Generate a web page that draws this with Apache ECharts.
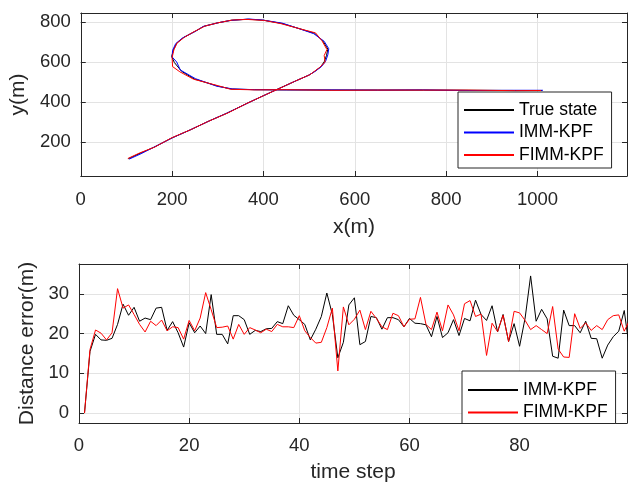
<!DOCTYPE html>
<html>
<head>
<meta charset="utf-8">
<script src="https://cdn.jsdelivr.net/npm/echarts@6/dist/echarts.min.js"></script>
<style>
  html, body { margin: 0; padding: 0; background: #fff; }
  #top { position: absolute; left: 0; top: 0; width: 630px; height: 244px; }
  #bot { position: absolute; left: 0; top: 244px; width: 630px; height: 244px; }
</style>
</head>
<body>
<div id="top"></div>
<div id="bot"></div>
<script>
// ---- Trajectory (top) ----
const trueX = [104,130,160,200,240,280,320,366,400,432,470,500,511,525,533,538,541,530,512,480,440,400,366,330,300,270,250,225,210,203,199,205,221,249,300,330,380,450,550,650,750,850,950,1010];
const trueY = [118,145,175,222,262,305,345,396,432,466,505,535,551,575,601,632,664,705,743,765,792,808,813,808,795,778,752,722,693,660,627,597,553,515,480,465,462,461,460,460,460,459,458,458];
const immX = [106,132,158,202,238,282,318,368,398,430,472,498,513,527,536,541,543,533,510,478,442,398,368,328,302,268,252,223,208,201,200,210,218,251,298,332,380,452,548,652,748,852,948,1012];
const immY = [116,143,173,224,260,307,343,398,430,463,507,533,553,577,603,636,666,703,741,766,793,809,814,807,796,777,754,720,692,658,625,600,560,517,479,466,462,461,461,460,461,458,459,459];
const fimmX = [103,128,162,198,242,278,322,364,402,434,468,502,509,523,535,533,539,528,514,482,438,402,364,332,298,272,248,227,211,204,200,201,217,247,302,328,382,448,552,648,752,848,952,1008];
const fimmY = [119,146,176,221,264,303,346,394,434,467,503,537,549,573,599,632,662,706,745,764,791,807,812,809,794,779,751,723,695,661,622,577,551,514,481,464,461,462,459,460,460,460,457,458];
const xTicksTop = [0,200,400,600,800,1000];
const yTicksTop = [200,400,600,800];

// ---- Distance error (bottom) ----
const steps = [1,2,3,4,5,6,7,8,9,10,11,12,13,14,15,16,17,18,19,20,21,22,23,24,25,26,27,28,29,30,31,32,33,34,35,36,37,38,39,40,41,42,43,44,45,46,47,48,49,50,51,52,53,54,55,56,57,58,59,60,61,62,63,64,65,66,67,68,69,70,71,72,73,74,75,76,77,78,79,80,81,82,83,84,85,86,87,88,89,90,91,92,93,94,95,96,97,98,99,100];
const errIMM = [0,15.5,19.8,18.4,18.3,18.8,22.3,27.4,24.6,26.6,23.1,23.9,23.5,26.4,26.6,20.8,23.0,20.2,16.6,22.7,20.2,21.9,20.0,29.8,19.8,19.8,17.4,24.5,24.5,23.5,19.8,20.8,20.5,21.2,21.3,23.0,22.5,27.0,24.6,23.5,22.3,18.4,21.1,24.3,30.2,24.8,13.9,17.8,27.2,29.0,17.2,18.0,24.3,24.0,21.1,24.0,24.0,23.5,21.7,23.8,22.6,22.5,22.2,19.2,24.3,19.0,20.2,23.5,19.5,23.8,23.2,28.4,24.8,23.3,27.0,20.4,24.8,18.0,22.5,16.8,23.9,34.5,23.1,26.1,23.7,14.3,13.8,25.9,22.0,22.0,20.2,23.1,18.8,18.7,13.8,17.1,19.2,20.6,25.8,15.5];
const errFIMM = [0,16.0,20.9,20.1,18.4,20.2,31.3,26.4,27.2,24.8,22.3,20.4,23.1,22.0,23.4,20.7,21.7,21.5,18.6,23.3,20.7,23.9,30.3,26.0,21.5,21.6,21.9,18.6,22.3,19.8,21.5,20.9,20.2,21.1,20.5,22.3,21.7,21.7,21.5,24.5,20.7,19.0,17.6,17.8,21.5,26.4,10.6,26.7,22.2,23.6,25.9,21.0,25.6,23.8,21.7,21.0,25.1,24.5,21.7,23.6,23.7,29.1,22.3,21.0,25.4,20.7,27.2,24.7,20.7,27.5,28.3,24.3,24.9,14.5,22.6,20.5,24.6,18.0,25.6,25.2,23.3,21.0,22.0,21.0,20.0,26.8,16.1,14.1,14.0,25.0,21.3,22.7,20.8,22.0,21.0,23.5,24.5,24.7,20.6,23.5];
const xTicksBot = [0,20,40,60,80];
const yTicksBot = [0,10,20,30];

const FONT = '"Liberation Sans", Arial, Helvetica, sans-serif';
const AX = '#262626';
const GRID = '#e3e3e3';

function zip(a, b) { return a.map((v, i) => [v, b[i]]); }

function mainAxis(pos, min, max, interval, split, name, nameGap, labelMargin, ticks) {
  const ax = {
    type: 'value', position: pos, min: min, max: max,
    name: name, nameLocation: 'middle', nameGap: nameGap,
    nameTextStyle: { fontFamily: FONT, fontSize: 21, color: AX },
    axisLine: { show: true, onZero: false, lineStyle: { color: AX, width: 1 } },
    axisTick: { show: true, inside: true, length: 5, lineStyle: { color: AX } },
    axisLabel: {
      show: true, fontFamily: FONT, fontSize: 18.5, color: AX, margin: labelMargin,
      showMinLabel: ticks.indexOf(min) >= 0, showMaxLabel: ticks.indexOf(max) >= 0,
      formatter: function (v) { return ticks.indexOf(v) >= 0 ? String(v) : ''; }
    },
    splitLine: { show: true, lineStyle: { color: GRID, width: 1 } }
  };
  if (interval) ax.interval = interval; else ax.splitNumber = split;
  return ax;
}
function boxAxis(pos, min, max, interval, split) {
  const ax = {
    type: 'value', position: pos, min: min, max: max,
    axisLine: { show: true, onZero: false, lineStyle: { color: AX, width: 1 } },
    axisTick: { show: true, inside: true, length: 5, lineStyle: { color: AX } },
    axisLabel: { show: false }, splitLine: { show: false }
  };
  if (interval) ax.interval = interval; else ax.splitNumber = split;
  return ax;
}
function legend(left, top, pad, names) {
  return {
    orient: 'vertical', left: left, top: top,
    backgroundColor: '#fff', borderColor: AX, borderWidth: 1, borderRadius: 0,
    padding: pad, itemWidth: 50, itemHeight: 14, itemGap: 4.5,
    itemStyle: { color: 'transparent', borderColor: 'transparent', borderWidth: 0, opacity: 0 },
    textStyle: { fontFamily: FONT, fontSize: 17.5, color: '#000' },
    data: names
  };
}
function lineSeries(name, data, color) {
  return {
    name: name, type: 'line', data: data, symbol: 'none', showSymbol: false,
    lineStyle: { color: color, width: 1 }, itemStyle: { color: color },
    clip: true, animation: false, xAxisIndex: 0, yAxisIndex: 0
  };
}

// top chart
const c1 = echarts.init(document.getElementById('top'), null, { renderer: 'canvas' });
c1.setOption({
  animation: false,
  grid: { left: 79, right: 3, top: 13, height: 163, containLabel: false },
  xAxis: [mainAxis('bottom', 0, 1196, 200, 0, 'x(m)', 41, 14, xTicksTop), boxAxis('top', 0, 1196, 200, 0)],
  yAxis: [mainAxis('left', 32, 844, 0, 4, 'y(m)', 45, 10, yTicksTop), boxAxis('right', 32, 844, 0, 4)],
  legend: legend(458, 92, [9, 8, 4, 5], ['True state', 'IMM-KPF', 'FIMM-KPF']),
  series: [
    lineSeries('True state', zip(trueX, trueY), '#000000'),
    lineSeries('IMM-KPF', zip(immX, immY), '#0000ff'),
    lineSeries('FIMM-KPF', zip(fimmX, fimmY), '#ff0000')
  ]
});

// bottom chart
const c2 = echarts.init(document.getElementById('bot'), null, { renderer: 'canvas' });
c2.setOption({
  animation: false,
  grid: { left: 79, right: 3, top: 20, height: 163, containLabel: false },
  xAxis: [mainAxis('bottom', 0, 99.5, 20, 0, 'time step', 39, 13, xTicksBot), boxAxis('top', 0, 99.5, 20, 0)],
  yAxis: [mainAxis('left', -2.5, 37.5, 0, 4, 'Distance error(m)', 36, 10, yTicksBot), boxAxis('right', -2.5, 37.5, 0, 4)],
  legend: legend(462, 127, [10, 8, 2, 5], ['IMM-KPF', 'FIMM-KPF']),
  series: [
    lineSeries('IMM-KPF', zip(steps, errIMM), '#000000'),
    lineSeries('FIMM-KPF', zip(steps, errFIMM), '#ff0000')
  ]
});
</script>
</body>
</html>
